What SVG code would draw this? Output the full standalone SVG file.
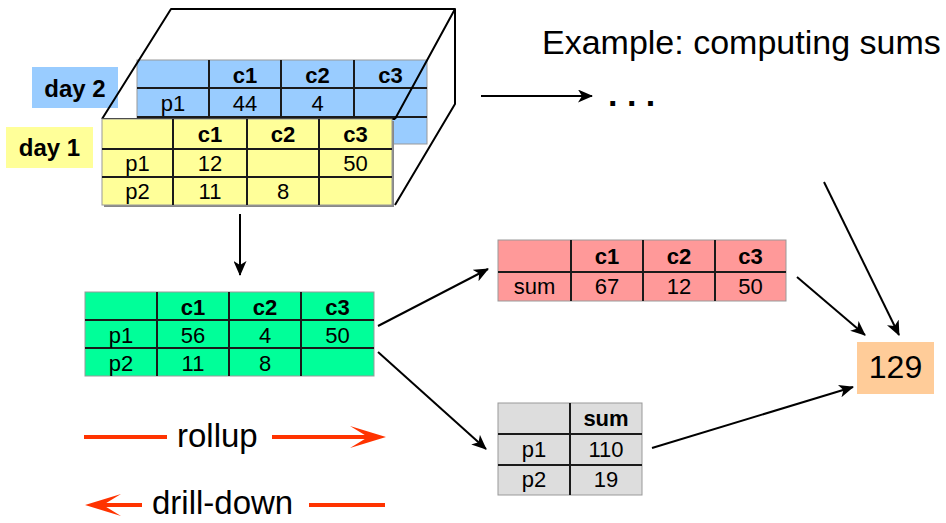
<svg xmlns="http://www.w3.org/2000/svg" width="946" height="523" viewBox="0 0 946 523">
<defs>
<style>
text{font-family:"Liberation Sans",Arial,sans-serif;fill:#000}
.t{font-size:22px;text-anchor:middle}
.h{font-size:22px;font-weight:bold;text-anchor:middle}
.box{stroke:#999;stroke-width:1}
.g{stroke:#1a1a1a;stroke-width:2;fill:none}
.cube{stroke:#000;stroke-width:2;fill:none;stroke-linejoin:round}
.con{stroke:#000;stroke-width:2;fill:none}
.red{stroke:#FF3300;stroke-width:4;fill:none}
.lbl{font-size:24px;font-weight:bold;text-anchor:middle}
.big{font-size:33px}
</style>
<marker id="ah" viewBox="0 0 15 13" markerWidth="15" markerHeight="13" refX="14" refY="6.5" orient="auto" markerUnits="userSpaceOnUse">
<path d="M0,0 L15,6.5 L0,13 L4,6.5 z" fill="#000"/>
</marker>
</defs>
<rect width="946" height="523" fill="#fff"/>

<g id="day2-label">
<rect x="32" y="67" width="86" height="41" fill="#99CCFF"/>
<text class="lbl" x="75" y="97">day 2</text>
</g>

<g id="table-day2">
<rect class="box" x="137" y="60" width="290" height="84" fill="#99CCFF"/>
<path class="g" d="M209,60V144M281,60V144M354,60V144M137,88H427M137,117H427"/>
<text class="h" x="245" y="83">c1</text>
<text class="h" x="317.5" y="83">c2</text>
<text class="h" x="390.5" y="83">c3</text>
<text class="t" x="173" y="111">p1</text>
<text class="t" x="245" y="111">44</text>
<text class="t" x="317.5" y="111">4</text>
</g>

<g id="cube">
<path class="cube" d="M102,119L171,9H455V104L395,205M455,9L395,119M102,119H395"/>
</g>

<g id="table-day1">
<rect x="104" y="121" width="290" height="86" fill="#888"/>
<rect class="box" x="102" y="119" width="290" height="86" fill="#FFFF99"/>
<path class="g" d="M173,119V205M247,119V205M319,119V205M102,149H392M102,177H392"/>
<text class="h" x="210" y="142">c1</text>
<text class="h" x="283" y="142">c2</text>
<text class="h" x="355.5" y="142">c3</text>
<text class="t" x="137.5" y="171">p1</text>
<text class="t" x="210" y="171">12</text>
<text class="t" x="355.5" y="171">50</text>
<text class="t" x="137.5" y="199">p2</text>
<text class="t" x="210" y="199">11</text>
<text class="t" x="283" y="199">8</text>
</g>

<g id="day1-label">
<rect x="6" y="127" width="87" height="41" fill="#FFFF99"/>
<text class="lbl" x="49.5" y="156">day 1</text>
</g>

<g id="title">
<text x="542" y="54" font-size="34">Example: computing sums</text>
</g>

<g id="ellipsis">
<text x="608" y="106" font-size="34" font-weight="bold">. . .</text>
</g>

<g id="table-pc">
<rect class="box" x="85" y="292" width="289" height="84" fill="#00FF99"/>
<path class="g" d="M157,292V376M229,292V376M301,292V376M85,320H374M85,348H374"/>
<text class="h" x="193" y="315">c1</text>
<text class="h" x="265" y="315">c2</text>
<text class="h" x="337.5" y="315">c3</text>
<text class="t" x="121" y="343">p1</text>
<text class="t" x="193" y="343">56</text>
<text class="t" x="265" y="343">4</text>
<text class="t" x="337.5" y="343">50</text>
<text class="t" x="121" y="371">p2</text>
<text class="t" x="193" y="371">11</text>
<text class="t" x="265" y="371">8</text>
</g>

<g id="table-c">
<rect class="box" x="498" y="240" width="288" height="61" fill="#FF9999"/>
<path class="g" d="M571,240V301M643,240V301M715,240V301M498,272H786"/>
<text class="h" x="607" y="264">c1</text>
<text class="h" x="679" y="264">c2</text>
<text class="h" x="750.5" y="264">c3</text>
<text class="t" x="534.5" y="294">sum</text>
<text class="t" x="607" y="294">67</text>
<text class="t" x="679" y="294">12</text>
<text class="t" x="750.5" y="294">50</text>
</g>

<g id="table-p">
<rect class="box" x="498" y="403" width="144" height="92" fill="#DDDDDD"/>
<path class="g" d="M570,403V495M498,434H642M498,465H642"/>
<text class="h" x="606" y="426">sum</text>
<text class="t" x="534" y="457">p1</text>
<text class="t" x="606" y="457">110</text>
<text class="t" x="534" y="487">p2</text>
<text class="t" x="606" y="487">19</text>
</g>

<g id="total">
<rect x="857" y="342" width="77" height="52" fill="#FFCC99"/>
<text x="895.5" y="378" font-size="32" text-anchor="middle">129</text>
</g>

<g id="connectors">
<line class="con" x1="240" y1="214" x2="240" y2="275" marker-end="url(#ah)"/>
<line class="con" x1="481" y1="96" x2="592" y2="96" marker-end="url(#ah)"/>
<line class="con" x1="378" y1="326" x2="488" y2="269" marker-end="url(#ah)"/>
<line class="con" x1="378" y1="352" x2="486" y2="449" marker-end="url(#ah)"/>
<line class="con" x1="797" y1="277" x2="865" y2="335" marker-end="url(#ah)"/>
<line class="con" x1="824" y1="182" x2="899" y2="335" marker-end="url(#ah)"/>
<line class="con" x1="652" y1="448" x2="853" y2="387" marker-end="url(#ah)"/>
</g>

<g id="legend-rollup">
<line class="red" x1="84" y1="437" x2="167" y2="437"/>
<text class="big" x="177" y="447">rollup</text>
<line class="red" x1="272" y1="437" x2="378" y2="437"/>
<path d="M386,437L350,426L368,437L350,448z" fill="#FF3300"/>
</g>

<g id="legend-drilldown">
<path d="M85,505L121,494L103,505L121,516z" fill="#FF3300"/>
<line class="red" x1="92" y1="505" x2="142" y2="505"/>
<text class="big" x="152" y="514">drill-down</text>
<line class="red" x1="309" y1="505" x2="385" y2="505"/>
</g>
</svg>
